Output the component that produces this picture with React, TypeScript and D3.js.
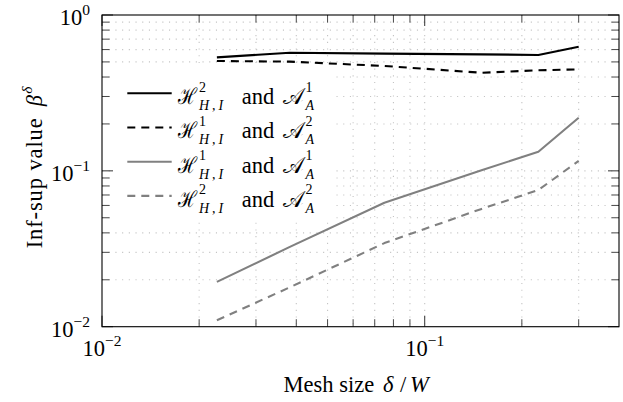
import React from "react";
import * as d3 from "d3";

const meshSize = [0.0227, 0.0382, 0.075, 0.15, 0.225, 0.3];
const h2a1 = [0.535, 0.573, 0.565, 0.559, 0.554, 0.626];
const h1a2 = [0.507, 0.502, 0.471, 0.426, 0.442, 0.448];
const h1a1 = [0.0194, 0.0325, 0.0624, 0.1008, 0.1326, 0.219];
const h2a2 = [0.011, 0.0179, 0.0344, 0.057, 0.0753, 0.116];

const xMajorTicks = [0.01, 0.1];
const xMinorTicks = [0.02, 0.03, 0.04, 0.05, 0.06, 0.07, 0.08, 0.09, 0.2, 0.3];
const yMajorTicks = [0.01, 0.1, 1];
const yMinorTicks = [0.02, 0.03, 0.04, 0.05, 0.06, 0.07, 0.08, 0.09, 0.2, 0.3, 0.4, 0.5, 0.6, 0.7, 0.8, 0.9];

const legendItems = [
  { H: "2", A: "1", values: h2a1, color: "#000", dash: "" },
  { H: "1", A: "2", values: h1a2, color: "#000", dash: "8,6" },
  { H: "1", A: "1", values: h1a1, color: "#808080", dash: "" },
  { H: "2", A: "2", values: h2a2, color: "#808080", dash: "8,6" },
];

const W = 623;
const H = 402;
const left = 102, right = 619, top = 15, bottom = 326.7;
const FONT = "'Liberation Serif', 'DejaVu Serif', serif";

export default function App() {
  const x = d3.scaleLog().domain([0.01, 0.4]).range([left, right]);
  const y = d3.scaleLog().domain([0.01, 1]).range([bottom, top]);
  const line = (vals: number[]) =>
    d3.line<number>().x((_, i) => x(meshSize[i])).y((d) => y(d))(vals) || "";

  const gridStyle = { stroke: "#c4c4c4", strokeWidth: 1.1, strokeDasharray: "1.1,5.6" };
  const tickColor = "#333";
  const majorLen = 11, minorLen = 7.5;

  const legX = 113, legY = 68, legW = 220, legH = 152;
  const rowY0 = 93.3, rowStep = 34.2;
  const tx = 177.5;

  const xlx = (left + right) / 2 - 77;

  return (
    <svg width={W} height={H} style={{ position: "absolute", left: 0, top: 0, background: "#fff" }} fontFamily={FONT}>
      <rect x={0} y={0} width={W} height={H} fill="#fff" />
      {/* grid */}
      {[...xMinorTicks, ...xMajorTicks].filter(v => x(v) > left + 0.5).map((v, i) => (
        <line key={"gx" + i} x1={x(v)} x2={x(v)} y1={top} y2={bottom} {...gridStyle} />
      ))}
      {[...yMinorTicks, ...yMajorTicks].filter(v => y(v) > top + 0.5 && y(v) < bottom - 0.5).map((v, i) => (
        <line key={"gy" + i} x1={left} x2={right} y1={y(v)} y2={y(v)} {...gridStyle} />
      ))}
      {/* ticks */}
      {xMajorTicks.map((v, i) => (
        <g key={"xt" + i} stroke={tickColor} strokeWidth={1}>
          <line x1={x(v)} x2={x(v)} y1={bottom} y2={bottom - majorLen} />
          <line x1={x(v)} x2={x(v)} y1={top} y2={top + majorLen} />
        </g>
      ))}
      {xMinorTicks.map((v, i) => (
        <g key={"xm" + i} stroke={tickColor} strokeWidth={0.9}>
          <line x1={x(v)} x2={x(v)} y1={bottom} y2={bottom - minorLen} />
          <line x1={x(v)} x2={x(v)} y1={top} y2={top + minorLen} />
        </g>
      ))}
      {yMajorTicks.map((v, i) => (
        <g key={"yt" + i} stroke={tickColor} strokeWidth={1}>
          <line x1={left} x2={left + majorLen} y1={y(v)} y2={y(v)} />
          <line x1={right} x2={right - majorLen} y1={y(v)} y2={y(v)} />
        </g>
      ))}
      {yMinorTicks.map((v, i) => (
        <g key={"ym" + i} stroke={tickColor} strokeWidth={0.9}>
          <line x1={left} x2={left + minorLen} y1={y(v)} y2={y(v)} />
          <line x1={right} x2={right - minorLen} y1={y(v)} y2={y(v)} />
        </g>
      ))}
      {/* series */}
      {legendItems.map((s, i) => (
        <path key={"s" + i} d={line(s.values)} fill="none" stroke={s.color} strokeWidth={2.1}
          strokeDasharray={s.dash || undefined} strokeLinejoin="round" />
      ))}
      {/* frame */}
      <rect x={left} y={top} width={right - left} height={bottom - top} fill="none" stroke="#000" strokeWidth={1.1} />
      {/* tick labels */}
      {xMajorTicks.map((v, i) => (
        <text key={"xl" + i} x={x(v)} y={356} textAnchor="middle" fontSize={22.5}>
          10<tspan dy={-10} fontSize={15.5}>{"\u2212" + Math.round(-Math.log10(v))}</tspan>
        </text>
      ))}
      {yMajorTicks.map((v, i) => {
        const e = Math.round(Math.log10(v));
        return (
          <text key={"yl" + i} x={90} y={y(v) + 10} textAnchor="end" fontSize={22.5}>
            10<tspan dy={-10} fontSize={15.5}>{e < 0 ? "\u2212" + -e : String(e)}</tspan>
          </text>
        );
      })}
      {/* x axis label */}
      <text y={392} fontSize={22.5}>
        <tspan x={xlx} textLength={90.7} lengthAdjust="spacing">Mesh size</tspan>
        <tspan x={xlx + 99.5} fontStyle="italic">δ</tspan>
        <tspan x={xlx + 116.5}>/</tspan>
        <tspan x={xlx + 126.5} fontStyle="italic">W</tspan>
      </text>
      {/* y axis label */}
      <text transform={`translate(41.7, 248.3) rotate(-90)`} fontSize={22.5}>
        <tspan x={0} textLength={130} lengthAdjust="spacing">Inf-sup value</tspan>
        <tspan x={142} fontStyle="italic">β</tspan>
        <tspan x={154.5} dy={-9.5} fontSize={15.5} fontStyle="italic">δ</tspan>
      </text>
      {/* legend */}
      <rect x={legX} y={legY} width={legW} height={legH} fill="#fff" />
      {legendItems.map((s, i) => {
        const ly = rowY0 + i * rowStep;
        const base = ly + 10.8;
        return (
          <g key={"lg" + i}>
            <line x1={127.3} x2={171.7} y1={ly} y2={ly} stroke={s.color} strokeWidth={2.1} strokeDasharray={s.dash || undefined} />
            <text transform={`translate(${tx}, ${base}) scale(0.8, 1)`} fontSize={22.5}>ℋ</text>
            <text x={tx + 21.5} y={base - 12.5} fontSize={14}>{s.H}</text>
            <text x={tx + 21.5} y={base + 6} fontSize={14}>
              <tspan fontStyle="italic">H</tspan>
              <tspan x={tx + 34.5}>,</tspan>
              <tspan x={tx + 41} fontStyle="italic">I</tspan>
            </text>
            <text x={tx + 64.3} y={base} fontSize={22.5}>and</text>
            <text transform={`translate(${tx + 105.5}, ${base}) scale(0.95, 1)`} fontSize={22.5}>𝒜</text>
            <text x={tx + 128} y={base - 12.5} fontSize={14}>{s.A}</text>
            <text x={tx + 128} y={base + 6} fontSize={14} fontStyle="italic">A</text>
          </g>
        );
      })}
    </svg>
  );
}
